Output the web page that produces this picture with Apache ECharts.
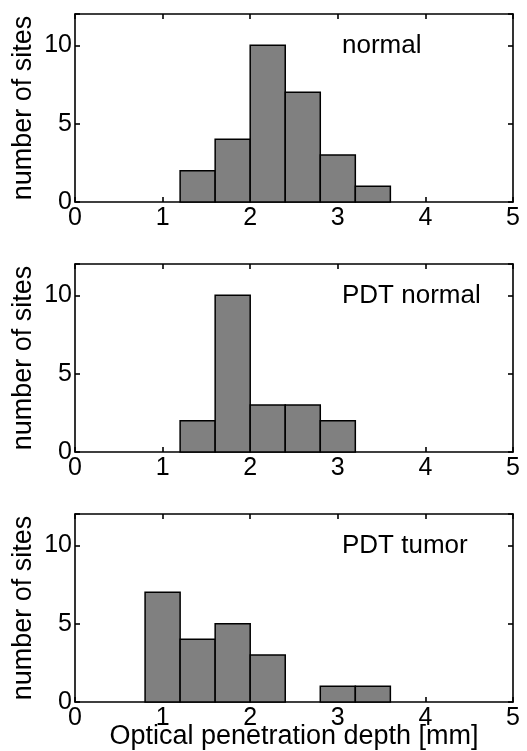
<!DOCTYPE html>
<html>
<head>
<meta charset="utf-8">
<script src="https://cdn.jsdelivr.net/npm/echarts@6/dist/echarts.min.js"></script>
<style>
  html, body { margin: 0; padding: 0; background: #fff; }
  #app { width: 527px; height: 751px; }
</style>
</head>
<body>
<div id="app"></div>
<script>
// bin left edges (mm), bin width 0.4
var binWidth = 0.4;
var normalBins = [1.2, 1.6, 2.0, 2.4, 2.8, 3.2];
var normalCounts = [2, 4, 10, 7, 3, 1];
var pdtNormalBins = [1.2, 1.6, 2.0, 2.4, 2.8];
var pdtNormalCounts = [2, 10, 3, 3, 2];
var pdtTumorBins = [0.8, 1.2, 1.6, 2.0, 2.4, 2.8, 3.2];
var pdtTumorCounts = [7, 4, 5, 3, 0, 1, 1];
var panelLabels = ['normal', 'PDT normal', 'PDT tumor'];
var xTicks = [0, 1, 2, 3, 4, 5];
var yTicks = [0, 5, 10];

var myChart = echarts.init(document.getElementById('app'));
var font = 'Liberation Sans, Arial, Helvetica, sans-serif';

var panels = [
  { bins: normalBins, counts: normalCounts },
  { bins: pdtNormalBins, counts: pdtNormalCounts },
  { bins: pdtTumorBins, counts: pdtTumorCounts }
];
var tops = [14, 264, 514];

var grids = [], xAxes = [], yAxes = [], series = [], titles = [];

panels.forEach(function (p, i) {
  grids.push({ left: 75, right: 14, top: tops[i], height: 188, outerBoundsMode: 'none', containLabel: false });

  var lineStyle = { color: '#000', width: 1.6 };
  // bottom x axis
  xAxes.push({
    type: 'value', gridIndex: i, min: 0, max: 5, interval: 1,
    position: 'bottom',
    name: i === 2 ? 'Optical penetration depth [mm]' : '',
    nameLocation: 'middle', nameGap: 21, nameMoveOverlap: false,
    nameTextStyle: { fontFamily: font, fontSize: 27, color: '#000', verticalAlign: 'top' },
    axisLine: { onZero: false, lineStyle: lineStyle },
    axisTick: { inside: true, length: 5, lineStyle: lineStyle },
    axisLabel: { fontFamily: font, fontSize: 25, color: '#000', margin: 4,
      formatter: function (v) { return xTicks.indexOf(v) >= 0 ? String(v) : ''; } },
    splitLine: { show: false }
  });
  // mirrored top axis
  xAxes.push({
    type: 'value', gridIndex: i, min: 0, max: 5, interval: 1,
    position: 'top',
    axisLine: { onZero: false, lineStyle: lineStyle },
    axisTick: { inside: true, length: 5, lineStyle: lineStyle },
    axisLabel: { show: false },
    splitLine: { show: false }
  });
  yAxes.push({
    type: 'value', gridIndex: i, min: 0, max: 12, interval: 5,
    position: 'left',
    name: 'number of sites', nameLocation: 'middle', nameGap: 38, nameMoveOverlap: false,
    nameTextStyle: { fontFamily: font, fontSize: 27, color: '#000' },
    axisLine: { show: true, onZero: false, lineStyle: lineStyle },
    axisTick: { show: true, inside: true, length: 5, lineStyle: lineStyle },
    axisLabel: { fontFamily: font, fontSize: 25, color: '#000', margin: 3,
      formatter: function (v) { return yTicks.indexOf(v) >= 0 ? String(v) : ''; } },
    splitLine: { show: false }
  });
  yAxes.push({
    type: 'value', gridIndex: i, min: 0, max: 12, interval: 5,
    position: 'right',
    axisLine: { show: true, onZero: false, lineStyle: lineStyle },
    axisTick: { show: true, inside: true, length: 5, lineStyle: lineStyle },
    axisLabel: { show: false },
    splitLine: { show: false }
  });

  var data = p.bins.map(function (b, k) { return [b, b + binWidth, p.counts[k]]; });
  series.push({
    type: 'custom',
    xAxisIndex: i * 2,
    yAxisIndex: i * 2,
    data: data,
    renderItem: function (params, api) {
      var h = api.value(2);
      if (!h) return null;
      var p0 = api.coord([api.value(0), 0]);
      var p1 = api.coord([api.value(1), h]);
      return {
        type: 'rect',
        shape: { x: p0[0], y: p1[1], width: p1[0] - p0[0], height: p0[1] - p1[1] },
        style: { fill: '#808080', stroke: '#000', lineWidth: 1.5 }
      };
    }
  });

  titles.push({
    text: panelLabels[i], left: 337, top: tops[i] + 14,
    textStyle: { fontFamily: font, fontSize: 26, fontWeight: 'normal', color: '#000' }
  });
});

var option = {
  animation: false,
  title: titles,
  grid: grids,
  xAxis: xAxes,
  yAxis: yAxes,
  series: series
};

myChart.setOption(option);
</script>
</body>
</html>
